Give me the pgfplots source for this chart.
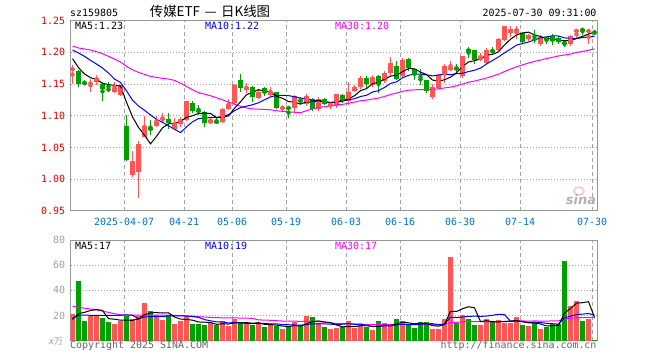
\documentclass[border=0pt]{standalone}
\usepackage{pgfplots}
\pgfplotsset{compat=1.18}
\usepackage{pgfplotstable}
\usepackage{fontspec}
\setmainfont{DejaVu Sans}
\newfontfamily\mono{DejaVu Sans Mono}
\newfontfamily\cjk{Noto Sans CJK SC}
\newcommand\monof{\mono\fontsize{10}{12}\selectfont}
\definecolor{kred}{RGB}{255,85,85}
\definecolor{kgreen}{RGB}{0,160,0}
\definecolor{gridc}{RGB}{165,165,165}
\definecolor{framec}{RGB}{150,150,150}
\definecolor{pricelab}{RGB}{225,0,0}
\definecolor{datelab}{RGB}{0,114,206}
\definecolor{vollab}{RGB}{160,160,160}
\definecolor{copyc}{RGB}{100,100,100}
\definecolor{mablue}{RGB}{0,0,255}
\definecolor{mamag}{RGB}{255,0,255}

\pgfplotstableread{
i o h l c v m5 m10 m30 vm5 vm10 vm30
0 1.173 1.180 1.150 1.174 21.1 1.190 1.2037 1.2100 17.0 17.5 27.5
1 1.171 1.172 1.146 1.150 47.7 1.176 1.1990 1.2069 21.5 20.3 26.5
2 1.152 1.156 1.148 1.151 15.5 1.166 1.1937 1.2053 22.5 20.3 25.8
3 1.150 1.158 1.138 1.152 19.7 1.160 1.1874 1.2037 24.0 20.2 25.2
4 1.154 1.165 1.149 1.160 19.7 1.1574 1.1816 1.2011 24.7 20.2 24.6
5 1.150 1.154 1.123 1.143 18.1 1.1512 1.1753 1.1979 24.1 20.2 23.5
6 1.143 1.154 1.138 1.140 14.7 1.1492 1.1674 1.1937 17.5 20.2 22.5
7 1.138 1.154 1.136 1.144 13.1 1.1478 1.1579 1.1895 17.1 20.2 21.5
8 1.132 1.148 1.131 1.148 15.7 1.1470 1.1526 1.1847 16.3 20.2 20.6
9 1.084 1.102 1.029 1.031 20.0 1.1214 1.1394 1.1779 16.3 20.5 20.4
10 1.006 1.044 1.004 1.028 17.6 1.0984 1.1248 1.1726 16.2 20.2 20.3
11 1.012 1.061 0.971 1.056 19.7 1.0816 1.1154 1.1684 17.2 17.4 20.3
12 1.067 1.099 1.066 1.084 29.9 1.0696 1.1087 1.1653 20.6 18.8 20.3
13 1.080 1.093 1.070 1.079 23.5 1.0558 1.1014 1.1621 22.1 19.2 20.3
14 1.084 1.100 1.083 1.091 20.8 1.0676 1.0945 1.1605 22.3 19.3 20.3
15 1.094 1.104 1.088 1.095 16.3 1.0810 1.0897 1.1590 22.0 19.1 20.3
16 1.095 1.104 1.079 1.088 20.3 1.0874 1.0845 1.1579 22.2 19.7 20.3
17 1.079 1.096 1.078 1.087 13.1 1.0880 1.0788 1.1558 18.8 19.7 20.1
18 1.087 1.098 1.083 1.095 15.5 1.0912 1.0735 1.1516 17.2 19.7 19.9
19 1.093 1.124 1.092 1.123 19.5 1.0976 1.0826 1.1463 16.9 19.6 19.7
20 1.120 1.124 1.105 1.107 13.1 1.1000 1.0905 1.1411 16.3 19.2 19.5
21 1.108 1.117 1.102 1.107 13.1 1.1038 1.0956 1.1366 14.9 18.5 19.1
22 1.106 1.108 1.083 1.089 12.3 1.1042 1.0961 1.1342 14.7 16.8 18.8
23 1.089 1.098 1.087 1.093 14.4 1.1038 1.0975 1.1316 14.5 15.8 18.5
24 1.091 1.096 1.087 1.090 12.3 1.0972 1.0974 1.1284 13.0 15.0 18.3
25 1.091 1.112 1.088 1.110 15.5 1.0978 1.0989 1.1253 13.5 14.9 18.2
26 1.111 1.126 1.109 1.117 11.7 1.0998 1.1018 1.1216 13.2 14.1 18.1
27 1.120 1.150 1.117 1.149 17.1 1.1118 1.1080 1.1184 14.2 14.5 18.1
28 1.157 1.166 1.137 1.144 13.9 1.1220 1.1129 1.1148 14.1 14.3 18.0
29 1.141 1.152 1.136 1.146 13.6 1.1332 1.1152 1.1124 14.4 13.7 17.95
30 1.145 1.147 1.121 1.129 12.8 1.1370 1.1174 1.1109 13.8 13.7 17.7
31 1.128 1.141 1.126 1.138 13.9 1.1412 1.1205 1.1105 14.3 13.8 16.5
32 1.144 1.145 1.131 1.136 10.7 1.1386 1.1252 1.1100 13.0 13.6 16.4
33 1.133 1.145 1.130 1.138 12.8 1.1374 1.1297 1.1095 12.8 13.4 16.2
34 1.137 1.138 1.111 1.113 11.7 1.1308 1.1320 1.1080 12.4 13.4 15.9
35 1.112 1.117 1.108 1.113 9.1 1.1276 1.1323 1.1070 11.6 12.7 15.6
36 1.113 1.114 1.096 1.112 11.7 1.1224 1.1318 1.1060 11.2 12.7 15.5
37 1.112 1.133 1.104 1.131 14.7 1.1214 1.1300 1.1056 12.0 12.5 15.5
38 1.124 1.130 1.119 1.123 11.5 1.1184 1.1279 1.1048 11.7 12.3 15.4
39 1.119 1.134 1.116 1.131 19.5 1.1220 1.1264 1.1081 13.3 12.8 15.4
40 1.127 1.128 1.108 1.110 18.7 1.1214 1.1245 1.1108 15.2 13.4 15.4
41 1.111 1.130 1.108 1.127 13.9 1.1244 1.1234 1.1132 15.7 13.4 15.2
42 1.126 1.128 1.117 1.119 10.7 1.1220 1.1217 1.1143 14.9 13.4 14.6
43 1.116 1.122 1.111 1.119 9.1 1.1212 1.1198 1.1157 14.4 13.1 14.1
44 1.116 1.135 1.112 1.134 9.9 1.1218 1.1219 1.1171 12.5 12.9 13.7
45 1.132 1.134 1.120 1.123 11.2 1.1244 1.1229 1.1180 11.0 13.1 13.6
46 1.123 1.153 1.117 1.137 15.5 1.1264 1.1254 1.1197 11.3 13.5 13.4
47 1.139 1.149 1.137 1.145 9.9 1.1316 1.1268 1.1216 11.1 13.0 13.3
48 1.146 1.162 1.142 1.159 12.8 1.1396 1.1304 1.1237 11.9 13.1 13.2
49 1.159 1.162 1.144 1.150 10.7 1.1428 1.1323 1.1246 12.0 12.2 12.9
50 1.149 1.165 1.145 1.161 8.3 1.1504 1.1374 1.1264 11.4 11.2 12.8
51 1.162 1.165 1.136 1.150 15.5 1.1530 1.1397 1.1279 11.4 11.4 12.8
52 1.155 1.170 1.152 1.168 13.9 1.1576 1.1446 1.1305 12.2 11.7 12.9
53 1.168 1.192 1.162 1.183 11.5 1.1624 1.1510 1.1335 12.0 11.9 12.8
54 1.178 1.187 1.157 1.158 17.1 1.1640 1.1534 1.1358 13.3 12.6 13.0
55 1.162 1.191 1.160 1.188 16.0 1.1694 1.1599 1.1384 14.8 13.1 13.0
56 1.189 1.191 1.170 1.175 12.3 1.1744 1.1637 1.1403 14.2 12.8 13.0
57 1.173 1.175 1.157 1.166 9.9 1.1740 1.1658 1.1409 13.4 12.8 12.8
58 1.158 1.174 1.149 1.157 14.7 1.1688 1.1656 1.1413 14.0 13.0 12.8
59 1.156 1.157 1.136 1.139 14.7 1.1650 1.1645 1.1411 13.5 13.4 12.8
60 1.129 1.150 1.127 1.145 9.1 1.1564 1.1629 1.1416 12.1 13.5 12.7
61 1.144 1.166 1.142 1.165 9.1 1.1544 1.1644 1.1425 11.5 12.8 12.5
62 1.165 1.181 1.152 1.178 17.1 1.1568 1.1654 1.1439 12.9 13.2 12.8
63 1.172 1.186 1.171 1.177 66.7 1.1608 1.1648 1.1452 23.3 18.7 14.6
64 1.175 1.182 1.168 1.174 13.9 1.1678 1.1664 1.1472 23.2 18.4 14.6
65 1.162 1.195 1.160 1.194 20.3 1.1776 1.1670 1.1499 25.4 18.8 15.0
66 1.205 1.208 1.191 1.201 17.1 1.1848 1.1696 1.1529 27.0 19.3 15.2
67 1.203 1.204 1.181 1.188 12.3 1.1868 1.1718 1.1548 26.1 19.5 15.1
68 1.190 1.199 1.186 1.191 12.3 1.1896 1.1752 1.1571 15.2 19.3 15.1
69 1.183 1.207 1.181 1.203 17.6 1.1954 1.1816 1.1595 15.9 19.6 15.1
70 1.202 1.209 1.196 1.201 16.0 1.1968 1.1872 1.1625 15.1 20.2 15.0
71 1.204 1.223 1.202 1.221 16.3 1.2008 1.1928 1.1656 14.9 21.0 15.1
72 1.219 1.242 1.218 1.242 14.4 1.2116 1.1992 1.1697 15.3 20.7 15.2
73 1.231 1.242 1.224 1.236 13.9 1.2206 1.2051 1.1736 15.6 15.4 15.3
74 1.233 1.242 1.221 1.237 18.7 1.2274 1.2114 1.1771 15.9 15.9 15.6
75 1.230 1.231 1.213 1.217 12.3 1.2306 1.2137 1.1802 15.1 15.1 15.7
76 1.221 1.229 1.218 1.227 11.5 1.2318 1.2163 1.1832 14.2 14.5 15.5
77 1.221 1.235 1.215 1.220 14.4 1.2274 1.2195 1.1857 14.2 14.7 15.7
78 1.213 1.227 1.210 1.224 9.6 1.2250 1.2228 1.1879 13.3 14.5 15.6
79 1.224 1.226 1.213 1.219 10.7 1.2214 1.2244 1.1902 11.7 13.8 15.6
80 1.226 1.229 1.211 1.218 13.3 1.2216 1.2261 1.1921 11.9 13.5 15.7
81 1.222 1.226 1.213 1.217 13.1 1.2196 1.2257 1.1943 12.2 13.2 15.7
82 1.217 1.219 1.208 1.213 63.5 1.2182 1.2228 1.1958 22.0 18.1 17.3
83 1.213 1.227 1.210 1.226 27.5 1.2186 1.2218 1.1972 25.6 19.5 17.8
84 1.233 1.236 1.221 1.235 31.5 1.2218 1.2216 1.1998 29.8 20.7 18.3
85 1.236 1.239 1.228 1.235 15.5 1.2252 1.2234 1.2014 30.2 21.1 18.3
86 1.233 1.235 1.213 1.234 17.1 1.2286 1.2241 1.2033 31.0 21.6 18.5
87 1.232 1.234 1.228 1.231 0.8 1.2322 1.2252 1.2055 18.5 20.3 18.2
}\kdata

\pgfplotsset{
  kaxis/.style={
    anchor=south west, scale only axis, width=527bp,
    xmin=-0.3, xmax=87.53,
    axis line style={draw=framec, line width=1bp},
    major tick length=0pt,
    xtick={8.6,18.6,26.6,35.6,45.6,54.6,64.6,74.6,86.6},
    tick label style={font=\monof},
    xmajorgrids, ymajorgrids,
    x grid style={draw=gridc, line width=1bp, dash pattern=on 4bp off 3bp},
    y grid style={draw=gridc, line width=1bp, dash pattern=on 1bp off 2bp},
  },
  wick/.style={#1, only marks, mark=none, error bars/.cd, y dir=both, y explicit, error mark=none,
    error bar style={#1, solid, line width=1bp}},
  body/.style={#1, only marks, mark=none, error bars/.cd, y dir=both, y explicit, error mark=none,
    error bar style={#1, solid, line width=5bp}},
}

\begin{document}
\begin{tikzpicture}
\path[use as bounding box] (0,0) rectangle (660bp,360bp);

\begin{axis}[kaxis,
  at={(70.7bp,149bp)}, height=190.4bp,
  ymin=0.95, ymax=1.25,
  xticklabels={2025-04-07,04-21,05-06,05-19,06-03,06-16,06-30,07-14,07-30},
  xticklabel style={text=datelab, yshift=-3.4bp},
  ytick={0.95,1.00,1.05,1.10,1.15,1.20,1.25},
  yticklabels={0.95,1.00,1.05,1.10,1.15,1.20,1.25},
  yticklabel style={text=pricelab, xshift=-2bp},
]
\addplot[restrict expr to domain={\thisrow{c}-\thisrow{o}}{0:1}, wick=kred]
  table[x=i, y expr={(\thisrow{h}+\thisrow{l})/2}, y error expr={(\thisrow{h}-\thisrow{l})/2}]{\kdata};
\addplot[restrict expr to domain={\thisrow{c}-\thisrow{o}}{-1:-0.0005}, wick=kgreen]
  table[x=i, y expr={(\thisrow{h}+\thisrow{l})/2}, y error expr={(\thisrow{h}-\thisrow{l})/2}]{\kdata};
\addplot[restrict expr to domain={\thisrow{c}-\thisrow{o}}{0:1}, body=kred]
  table[x=i, y expr={(\thisrow{o}+\thisrow{c})/2}, y error expr={max(abs(\thisrow{c}-\thisrow{o})/2,0.0008)}]{\kdata};
\addplot[restrict expr to domain={\thisrow{c}-\thisrow{o}}{-1:-0.0005}, body=kgreen]
  table[x=i, y expr={(\thisrow{o}+\thisrow{c})/2}, y error expr={max(abs(\thisrow{c}-\thisrow{o})/2,0.0008)}]{\kdata};
\addplot[mamag, line width=1bp, mark=none] table[x=i, y=m30]{\kdata};
\addplot[mablue, line width=1bp, mark=none] table[x=i, y=m10]{\kdata};
\addplot[black, line width=1bp, mark=none] table[x=i, y=m5]{\kdata};
\end{axis}

\begin{axis}[kaxis,
  at={(70.7bp,19.3bp)}, height=100.7bp,
  ymin=0, ymax=80,
  xticklabels={,,,,,,,,},
  ytick={20,40,60,80},
  yticklabels={20,40,60,80},
  yticklabel style={text=vollab, xshift=-2bp},
]
\addplot[ycomb, kred, line width=5bp, mark=none, restrict expr to domain={\thisrow{c}-\thisrow{o}}{0:1}]
  table[x=i, y=v]{\kdata};
\addplot[ycomb, kgreen, line width=5bp, mark=none, restrict expr to domain={\thisrow{c}-\thisrow{o}}{-1:-0.0005}]
  table[x=i, y=v]{\kdata};
\addplot[mamag, line width=1bp, mark=none] table[x=i, y=vm30]{\kdata};
\addplot[mablue, line width=1bp, mark=none] table[x=i, y=vm10]{\kdata};
\addplot[black, line width=1bp, mark=none] table[x=i, y=vm5]{\kdata};
\end{axis}

% header texts
\node[anchor=base west, inner sep=0, font=\monof] at (70bp,343.3bp) {sz159805};
\node[anchor=base, inner sep=0, font=\cjk\fontsize{13.5}{15}\selectfont] at (210bp,343.6bp) {传媒ETF\,\,—\,\,日K线图};
\node[anchor=base east, inner sep=0, font=\monof] at (596.7bp,343.3bp) {2025-07-30 09:31:00};
% price legends
\node[anchor=base west, inner sep=0, font=\monof, text=black] at (75bp,330bp) {MA5:1.23};
\node[anchor=base west, inner sep=0, font=\monof, text=mablue] at (205bp,330bp) {MA10:1.22};
\node[anchor=base west, inner sep=0, font=\monof, text=mamag] at (335bp,330bp) {MA30:1.20};
% volume legends
\node[anchor=base west, inner sep=0, font=\monof, text=black] at (75bp,110bp) {MA5:17};
\node[anchor=base west, inner sep=0, font=\monof, text=mablue] at (205bp,110bp) {MA10:19};
\node[anchor=base west, inner sep=0, font=\monof, text=mamag] at (335bp,110bp) {MA30:17};
% unit
\node[anchor=base east, inner sep=0, text=vollab, font=\fontsize{9}{10}\selectfont] at (63.3bp,15.7bp) {\textit{x}{\cjk 万}};
% footer
\node[anchor=base west, inner sep=0, font=\monof, text=copyc] at (70bp,11.3bp) {Copyright 2025 SINA.COM};
\node[anchor=base east, inner sep=0, font=\monof, text=copyc] at (596.7bp,11.3bp) {http://finance.sina.com.cn};
% sina watermark
\draw[kred!35, line width=1.6bp] (579bp,169bp) ellipse (5bp and 4bp);
\node[anchor=base, inner sep=0, text=black!30, font=\bfseries\itshape\fontsize{13}{13}\selectfont] at (581bp,155bp) {sina};
\end{tikzpicture}
\end{document}
